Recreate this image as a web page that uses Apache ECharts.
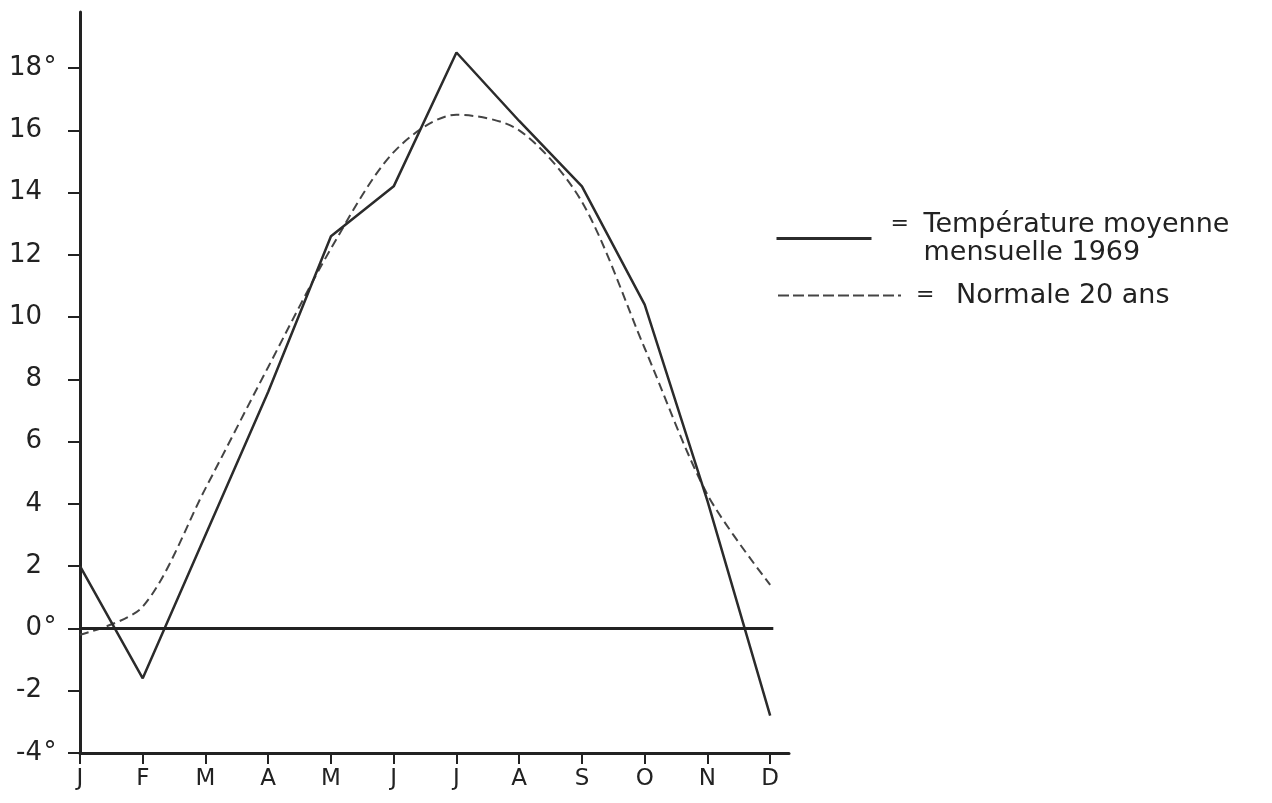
<!DOCTYPE html>
<html>
<head>
<meta charset="utf-8">
<title>Température moyenne mensuelle 1969</title>
<script src="https://cdn.jsdelivr.net/npm/echarts@6/dist/echarts.min.js"></script>
<style>
  html, body { margin: 0; padding: 0; background: #fff; }
  #chart { width: 1272px; height: 803px; }
</style>
</head>
<body>
<div id="chart"></div>
<script>
// mois
let months = ['J', 'F', 'M', 'A', 'M', 'J', 'J', 'A', 'S', 'O', 'N', 'D'];
// température moyenne mensuelle 1969
let temp1969 = [2.0, -1.6, 3.0, 7.6, 12.6, 14.2, 18.5, 16.3, 14.2, 10.4, 4.1, -2.8];
// normale 20 ans
let normale = [-0.2, 0.7, 4.5, 8.4, 12.2, 15.3, 16.5, 16.0, 13.7, 9.0, 4.3, 1.4];
// graduations de l'axe vertical
let yTicks = [-4, -2, 0, 2, 4, 6, 8, 10, 12, 14, 16, 18];
let degreeTicks = [18, 0, -4];

let font = 'DejaVu Sans';
let ink = '#222';

function getChartOption() {
  let monthIdx = months.map((m, i) => i);
  let option = {
    backgroundColor: '#fff',
    animation: false,
    color: ['#2b2b2b', '#444'],
    textStyle: { fontFamily: font, color: ink },
    grid: {
      left: 80,
      right: 483,
      top: 12,
      bottom: 50
    },
    legend: [{
      data: ['1969'],
      orient: 'vertical',
      left: 775,
      top: 211,
      padding: 0,
      itemWidth: 95,
      itemHeight: 14,
      selectedMode: false,
      itemStyle: { opacity: 0 },
      lineStyle: { width: 3 },
      formatter: () => '{eq|=}{t|Température moyenne}\n{eq| }{t|mensuelle 1969}',
      textStyle: {
        fontFamily: font,
        color: ink,
        rich: {
          eq: { width: 33, padding: [0, 0, 0, 14], align: 'left', fontSize: 22, lineHeight: 28, fontFamily: font, color: ink },
          t: { align: 'left', fontSize: 27, lineHeight: 28, fontFamily: font, color: ink }
        }
      }
    }, {
      data: ['Normale'],
      orient: 'vertical',
      left: 777,
      top: 282,
      padding: 0,
      itemWidth: 123,
      itemHeight: 14,
      selectedMode: false,
      itemStyle: { opacity: 0 },
      lineStyle: { type: [11, 4], width: 2 },
      formatter: () => '{eq|=}{t|Normale 20 ans}',
      textStyle: {
        fontFamily: font,
        color: ink,
        rich: {
          eq: { width: 40, padding: [0, 0, 0, 10], align: 'left', fontSize: 22, lineHeight: 28, fontFamily: font, color: ink },
          t: { align: 'left', fontSize: 27, lineHeight: 28, fontFamily: font, color: ink }
        }
      }
    }],
    xAxis: {
      type: 'value',
      min: 0,
      max: 11.3,
      interval: 1,
      axisLine: {
        show: true,
        onZero: false,
        lineStyle: { color: ink, width: 3 }
      },
      axisTick: {
        show: true,
        customValues: monthIdx,
        length: 11,
        lineStyle: { color: ink, width: 2 }
      },
      axisLabel: {
        customValues: monthIdx,
        formatter: v => months[v],
        margin: 15,
        fontSize: 23,
        color: ink,
        fontFamily: font
      },
      splitLine: { show: false }
    },
    yAxis: {
      type: 'value',
      min: -4,
      max: 19.8,
      interval: 2,
      axisLine: {
        show: true,
        onZero: false,
        lineStyle: { color: ink, width: 3 }
      },
      axisTick: {
        show: true,
        customValues: yTicks,
        length: 12,
        lineStyle: { color: ink, width: 2 }
      },
      axisLabel: {
        customValues: yTicks,
        margin: 22,
        formatter: v => '{n|' + v + '}{d|' + (degreeTicks.indexOf(v) >= 0 ? '°' : ' ') + '}',
        rich: {
          n: { fontSize: 26, color: ink, fontFamily: font },
          d: { fontSize: 26, width: 16, align: 'left', color: ink, fontFamily: font, verticalAlign: 'top' }
        }
      },
      splitLine: { show: false }
    },
    series: [{
      name: '1969',
      type: 'line',
      symbol: 'none',
      showSymbol: false,
      lineStyle: { color: '#2b2b2b', width: 2.5 },
      data: temp1969.map((v, i) => [i, v]),
      markLine: {
        silent: true,
        symbol: 'none',
        label: { show: false },
        lineStyle: { color: ink, width: 3, type: 'solid' },
        data: [[{ coord: [0, 0] }, { coord: [11.05, 0] }]]
      },
      z: 3
    }, {
      name: 'Normale',
      type: 'line',
      symbol: 'none',
      showSymbol: false,
      smooth: 0.3,
      lineStyle: { color: '#444', width: 2, type: [9, 5] },
      data: normale.map((v, i) => [i, v]),
      z: 2
    }]
  };
  return option;
}

function drawChart() {
  let myChart = echarts.init(document.getElementById('chart'), null, { renderer: 'canvas' });
  myChart.setOption(getChartOption());
}

drawChart();
</script>
</body>
</html>
